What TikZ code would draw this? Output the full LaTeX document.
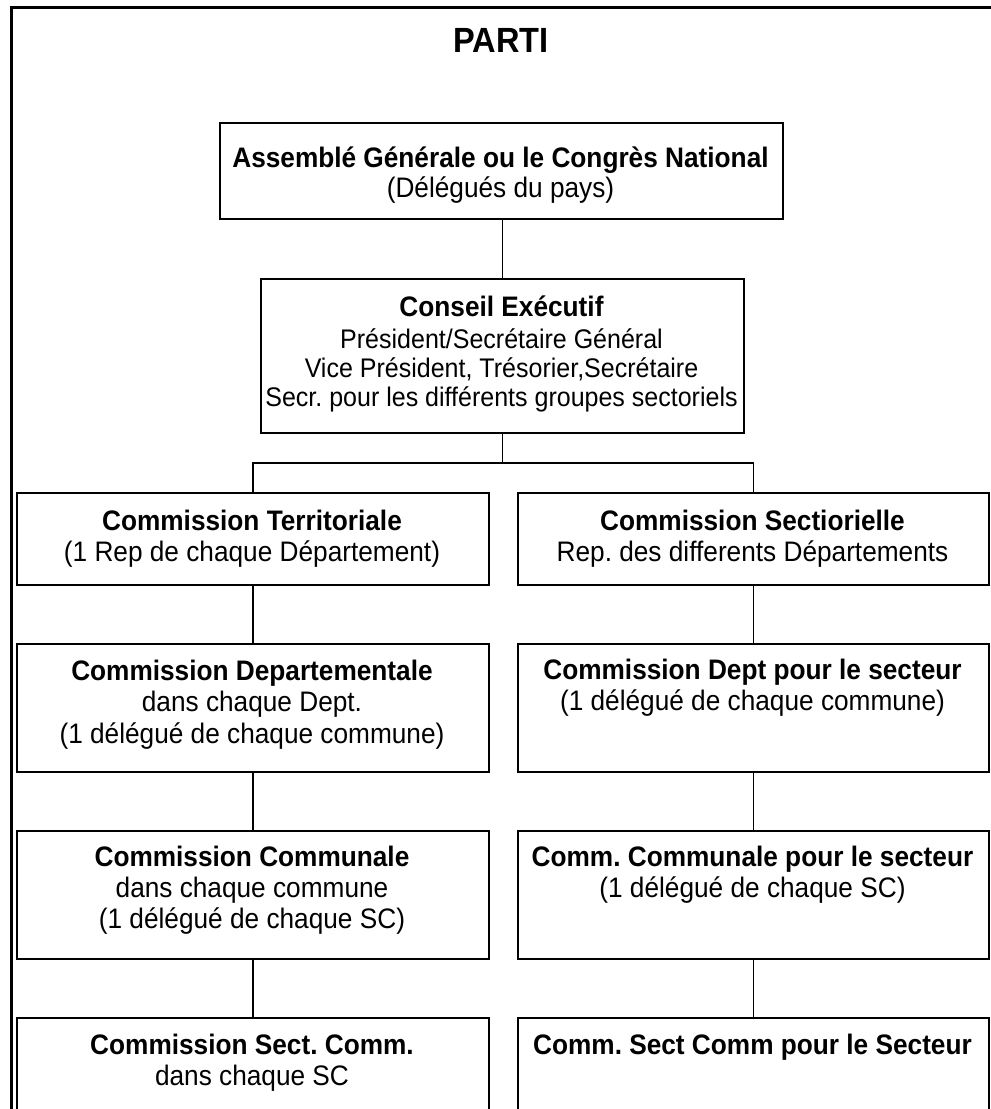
\documentclass[tikz,border=0pt]{standalone}
\usepackage{fontspec}
\setmainfont{Liberation Sans}[FakeStretch=0.93]
\begin{document}
\frenchspacing
\begin{tikzpicture}[x=1pt,y=-1pt,
  box/.style={draw=black, line width=1.8pt, inner sep=0pt, anchor=north west},
  txt/.style={align=center, anchor=north, inner sep=0pt},
  link/.style={draw=black, line width=1.5pt},
  frame/.style={draw=black, line width=2.6pt}]
\useasboundingbox (0,0) rectangle (991,1109);
\clip (0,0) rectangle (991,1109);
% frame
\draw[frame] (11.5,1125) -- (11.5,7.5) -- (1005,7.5);
% title
\node[anchor=base, inner sep=0pt, font=\fontsize{35}{38}\selectfont\bfseries] (title) at (501,52) {PARTI};
% boxes
\node[box, minimum width=563pt, minimum height=96pt] (A) at (219,122) {};
\node[box, minimum width=483pt, minimum height=154pt] (B) at (260,278) {};
\node[box, minimum width=472pt, minimum height=92pt] (T1) at (16,492) {};
\node[box, minimum width=471pt, minimum height=92pt] (S1) at (517,492) {};
\node[box, minimum width=472pt, minimum height=128pt] (T2) at (16,643) {};
\node[box, minimum width=471pt, minimum height=128pt] (S2) at (517,643) {};
\node[box, minimum width=472pt, minimum height=128pt] (T3) at (16,830) {};
\node[box, minimum width=471pt, minimum height=128pt] (S3) at (517,830) {};
\node[box, minimum width=472pt, minimum height=128pt] (T4) at (16,1017) {};
\node[box, minimum width=471pt, minimum height=128pt] (S4) at (517,1017) {};
% texts
\node[txt, font=\fontsize{28.2}{28}\selectfont] (tA) at (500.5,146.4)
  {\strut\textbf{Assemblé Générale ou le Congrès National}\\\strut (Délégués du pays)};
\node[txt, font=\fontsize{26.9}{27}\selectfont] (tB) at (501.5,296.1)
  {\strut{\fontsize{28.2}{27}\selectfont\bfseries Conseil Exécutif}\\[2.5pt]\strut Président/Secrétaire Général\\\strut Vice Président, Trésorier,Secrétaire\\\strut Secr. pour les différents groupes sectoriels};
\node[txt, font=\fontsize{28.2}{31}\selectfont] (tT1) at (252,508.3)
  {\strut\textbf{Commission Territoriale}\\\strut (1 Rep de chaque Département)};
\node[txt, font=\fontsize{28.2}{31}\selectfont] (tS1) at (752.5,508.3)
  {\strut\textbf{Commission Sectiorielle}\\\strut Rep. des differents Départements};
\node[txt, font=\fontsize{28.2}{31.5}\selectfont] (tT2) at (252,658)
  {\strut\textbf{Commission Departementale}\\\strut dans chaque Dept.\\\strut (1 délégué de chaque commune)};
\node[txt, font=\fontsize{28.2}{31}\selectfont] (tS2) at (752.5,658)
  {\strut\textbf{Commission Dept pour le secteur}\\\strut (1 délégué de chaque commune)};
\node[txt, font=\fontsize{28.2}{31}\selectfont] (tT3) at (252,844.3)
  {\strut\textbf{Commission Communale}\\\strut dans chaque commune\\\strut (1 délégué de chaque SC)};
\node[txt, font=\fontsize{28.2}{31}\selectfont] (tS3) at (752.5,844.3)
  {\strut\textbf{Comm. Communale pour le secteur}\\\strut (1 délégué de chaque SC)};
\node[txt, font=\fontsize{28.2}{31}\selectfont] (tT4) at (252,1032.3)
  {\strut\textbf{Commission Sect. Comm.}\\\strut dans chaque SC};
\node[txt, font=\fontsize{28.2}{31}\selectfont] (tS4) at (752.5,1032.3)
  {\strut\textbf{Comm. Sect Comm pour le Secteur}};
% connectors
\draw[link] (B.north |- A.south) -- (B.north);
\coordinate (hub) at ([yshift=-29pt]B.south);
\draw[link] (B.south) -- (hub);
\draw[link] (T1.north) |- (hub) -| (S1.north);
\draw[link] (T1.south) -- (T2.north);
\draw[link] (T2.south) -- (T3.north);
\draw[link] (T3.south) -- (T4.north);
\draw[link] (S1.south) -- (S2.north);
\draw[link] (S2.south) -- (S3.north);
\draw[link] (S3.south) -- (S4.north);
\end{tikzpicture}
\end{document}
